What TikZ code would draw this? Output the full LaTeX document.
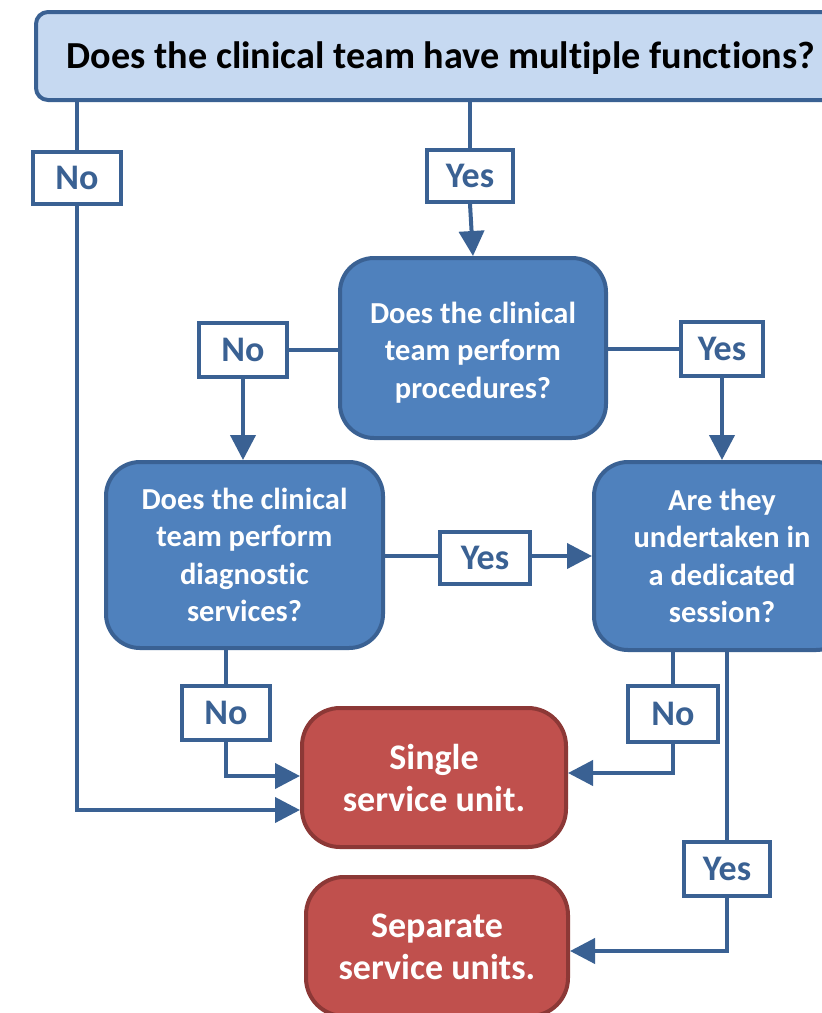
\documentclass[tikz,border=0pt]{standalone}
\usepackage{fontspec}
\setmainfont[Ligatures=NoCommon]{Carlito}
\usetikzlibrary{arrows.meta}
\definecolor{tfill}{HTML}{C6D9F1}
\definecolor{bline}{HTML}{3A6193}
\definecolor{bfill}{HTML}{4F81BD}
\definecolor{rfill}{HTML}{C0504D}
\definecolor{rline}{HTML}{8C3836}
\tikzset{
  qbox/.style={draw=bline, fill=bfill, line width=4pt, rounded corners=34pt, align=center, text=white, font=\bfseries\fontsize{30.5}{37.5}\selectfont, inner sep=0pt},
  rbox/.style={draw=rline, fill=rfill, line width=4pt, rounded corners=38pt, align=center, text=white, font=\bfseries\fontsize{36}{42}\selectfont, inner sep=0pt},
  lbl/.style={draw=bline, fill=white, line width=4pt, text=bline, font=\bfseries\fontsize{36}{40}\selectfont, inner sep=0pt},
  conn/.style={draw=bline, line width=4pt},
  arr/.style={conn, -{Triangle[width=25pt,length=25pt]}},
}
\begin{document}
\begin{tikzpicture}[x=1pt,y=-1pt]
\useasboundingbox (0,0) rectangle (822,1013);
\clip (0,0) rectangle (822,1013);
\fill[white] (0,0) rectangle (822,1013);
% main boxes
\node[draw=bline, fill=tfill, line width=4pt, rounded corners=12pt, minimum width=806pt, minimum height=88pt, inner sep=0pt] (title) at (439,56) {};
\node[font=\bfseries\fontsize{38.2}{40}\selectfont, inner sep=0pt] (ttext) at (441,58) {Does the clinical team have multiple functions?};
\node[qbox, minimum width=266pt, minimum height=180pt] (proc) at (473,348) {\rule{0pt}{30pt}Does the clinical\\team perform\\procedures?};
\node[qbox, minimum width=277pt, minimum height=186pt] (diag) at (244.5,555) {Does the clinical\\team perform\\diagnostic\\services?};
\node[qbox, minimum width=256pt, minimum height=188pt] (sess) at (722,556) {Are they\\undertaken in\\a dedicated\\session?};
\node[rbox, minimum width=264pt, minimum height=139pt] (single) at (434,777.5) {Single\\service unit.};
\node[rbox, minimum width=262pt, minimum height=139pt] (sep) at (437,946.5) {Separate\\service units.};
% labels
\node[lbl, minimum width=88pt, minimum height=52pt] (noA) at (77,178) {No};
\node[lbl, minimum width=86pt, minimum height=52pt] (yesA) at (470,176) {Yes};
\node[lbl, minimum width=88pt, minimum height=54pt] (noB) at (243,350) {No};
\node[lbl, minimum width=82pt, minimum height=54pt] (yesB) at (722,349) {Yes};
\node[lbl, minimum width=90pt, minimum height=52pt] (yesC) at (485,558) {Yes};
\node[lbl, minimum width=88pt, minimum height=54pt] (noC) at (226,713) {No};
\node[lbl, minimum width=90pt, minimum height=56pt] (noD) at (673,714) {No};
\node[lbl, minimum width=86pt, minimum height=54pt] (yesD) at (727,869) {Yes};
% coordinates for entry points
\coordinate (sL1) at (single.west |- 0,776);
\coordinate (sL2) at (single.west |- 0,810);
\coordinate (sR) at (single.east |- 0,773);
\coordinate (pR) at (sep.east |- 0,951);
% connectors
\draw[conn] (noA |- title.south) -- (noA.north);
\draw[arr] (noA.south) |- (sL2);
\draw[conn] (yesA |- title.south) -- (yesA.north);
\draw[arr] (yesA.south) -- (proc.north);
\draw[conn] (proc.west |- noB) -- (noB.east);
\draw[arr] (noB.south) -- (noB |- diag.north);
\draw[conn] (proc.east |- yesB) -- (yesB.west);
\draw[arr] (yesB.south) -- (yesB |- sess.north);
\draw[conn] (diag.east |- 0,556) -- (yesC.west |- 0,556);
\draw[arr] (yesC.east |- 0,556) -- (sess.west |- 0,556);
\draw[conn] (noC |- diag.south) -- (noC.north);
\draw[arr] (noC.south) |- (sL1);
\draw[conn] (noD |- sess.south) -- (noD.north);
\draw[arr] (noD.south) |- (sR);
\draw[conn] (yesD |- sess.south) -- (yesD.north);
\draw[arr] (yesD.south) |- (pR);
\end{tikzpicture}
\end{document}
